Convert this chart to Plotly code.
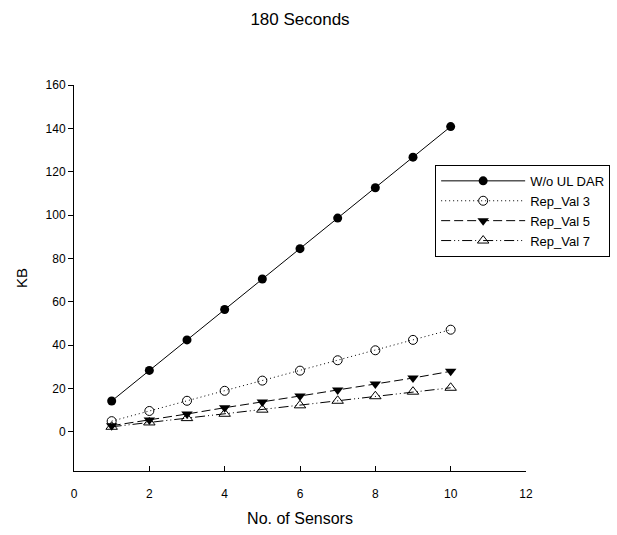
import plotly.graph_objects as go

sensors = [1, 2, 3, 4, 5, 6, 7, 8, 9, 10]
wo_ul_dar = [14.2, 28.3, 42.4, 56.4, 70.5, 84.5, 98.6, 112.6, 126.7, 140.8]
rep_val3 = [4.9, 9.6, 14.3, 18.9, 23.6, 28.2, 33.0, 37.6, 42.4, 47.1]
rep_val5 = [2.8, 5.4, 8.2, 11.1, 13.7, 16.5, 19.3, 22.0, 24.8, 27.9]
rep_val7 = [2.3, 4.3, 6.3, 8.3, 10.2, 12.2, 14.3, 16.4, 18.5, 20.3]
x_ticks = [0, 2, 4, 6, 8, 10, 12]
y_ticks = [0, 20, 40, 60, 80, 100, 120, 140, 160]

FONT = "Liberation Sans, Arial, sans-serif"

fig = go.Figure()
fig.add_trace(go.Scatter(x=sensors, y=wo_ul_dar, name="W/o UL DAR", mode="lines+markers",
                         line=dict(color="black", width=1, dash="solid"),
                         marker=dict(symbol="circle", size=9, color="black")))
fig.add_trace(go.Scatter(x=sensors, y=rep_val3, name="Rep_Val 3", mode="lines+markers",
                         line=dict(color="black", width=1, dash="1px,3px"),
                         marker=dict(symbol="circle-open", size=9, color="black", line=dict(width=1))))
fig.add_trace(go.Scatter(x=sensors, y=rep_val5, name="Rep_Val 5", mode="lines+markers",
                         line=dict(color="black", width=1, dash="9px,4px"),
                         marker=dict(symbol="triangle-down", size=10, color="black")))
fig.add_trace(go.Scatter(x=sensors, y=rep_val7, name="Rep_Val 7", mode="lines+markers",
                         line=dict(color="black", width=1, dash="10px,3px,1px,3px,1px,3px"),
                         marker=dict(symbol="triangle-up-open", size=10, color="black", line=dict(width=1))))

fig.update_layout(
    width=617, height=535,
    margin=dict(l=74, r=91, t=85, b=64, autoexpand=False),
    paper_bgcolor="white", plot_bgcolor="white",
    font=dict(family=FONT, size=12, color="black"),
    title=dict(text="180 Seconds", x=0.5, xref="paper", y=1 - 19 / 535, yanchor="middle",
               font=dict(family=FONT, size=17, color="black")),
    showlegend=True,
    legend=dict(x=0.799, y=0.793, xanchor="left", yanchor="top",
                bordercolor="black", borderwidth=1, bgcolor="white",
                font=dict(family=FONT, size=13, color="black"),
                itemwidth=84, tracegroupgap=0),
    xaxis=dict(range=[0, 12], tickvals=x_ticks, showgrid=False, zeroline=False,
               showline=True, linecolor="black", linewidth=1,
               ticks="inside", ticklen=5, tickcolor="black",
               tickfont=dict(size=12), ticklabelstandoff=12,
               title=dict(text="No. of Sensors", font=dict(size=16), standoff=12)),
    yaxis=dict(range=[-18.1, 160], tickvals=y_ticks, showgrid=False, zeroline=False,
               showline=True, linecolor="black", linewidth=1,
               ticks="outside", ticklen=5, tickcolor="black",
               tickfont=dict(size=12),
               title=dict(text="KB", font=dict(size=15), standoff=14)),
)

fig.write_html("out.html")
